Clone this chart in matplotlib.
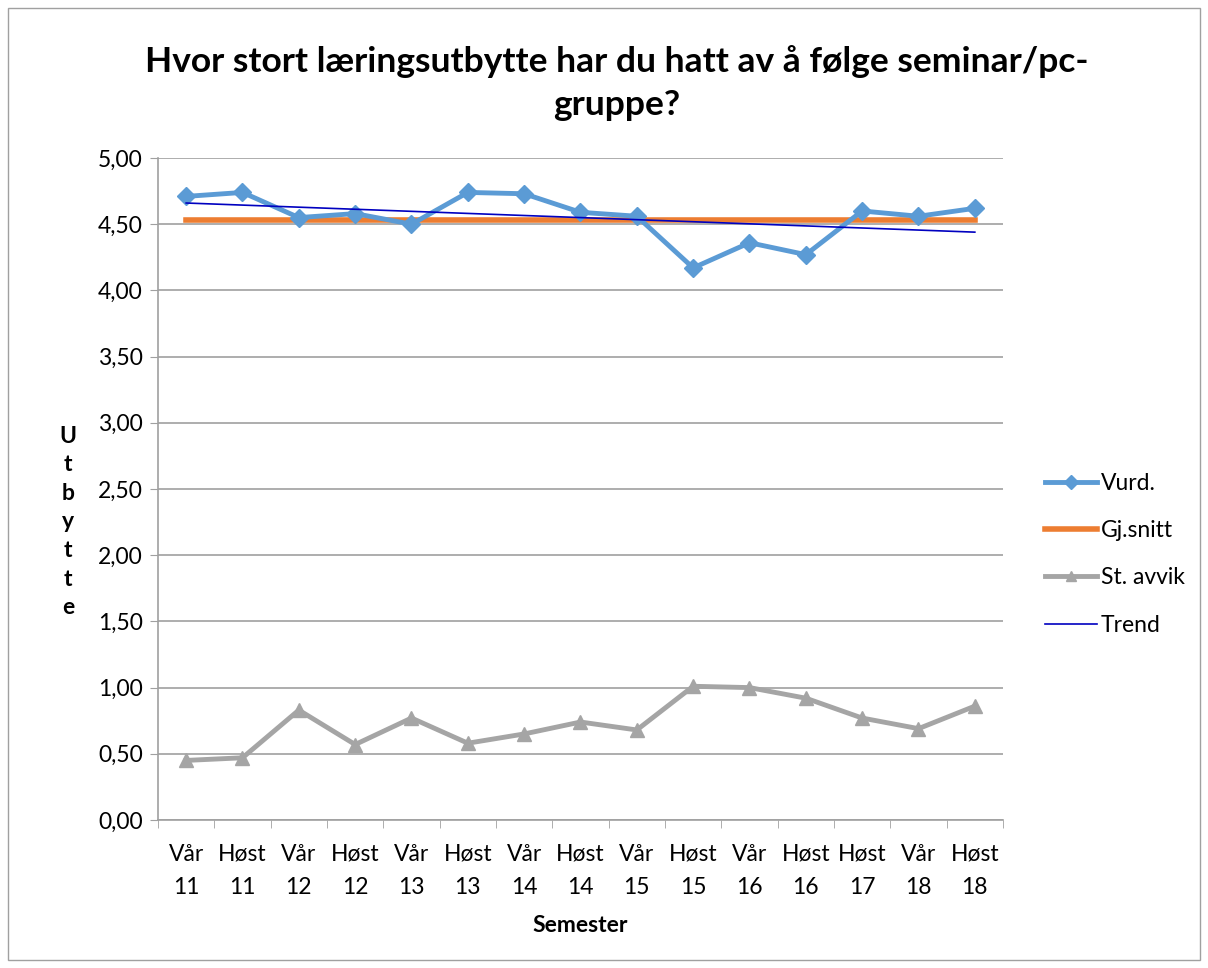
import matplotlib.pyplot as plt
import numpy as np
from matplotlib.ticker import FixedLocator, FuncFormatter
from matplotlib.patches import Rectangle

plt.rcParams['font.family'] = ['Lato', 'DejaVu Sans']

semestre = ["Vår\n11", "Høst\n11", "Vår\n12", "Høst\n12", "Vår\n13", "Høst\n13", "Vår\n14",
            "Høst\n14", "Vår\n15", "Høst\n15", "Vår\n16", "Høst\n16", "Høst\n17", "Vår\n18", "Høst\n18"]
vurd = [4.71, 4.74, 4.55, 4.58, 4.50, 4.74, 4.73, 4.59, 4.56, 4.17, 4.36, 4.27, 4.60, 4.56, 4.62]
gj_snitt = [4.53] * 15
st_avvik = [0.45, 0.47, 0.83, 0.57, 0.77, 0.58, 0.65, 0.74, 0.68, 1.01, 1.00, 0.92, 0.77, 0.69, 0.86]
trend = [4.66, 4.44]  # first and last semester

fs = 16.5

fig = plt.figure(figsize=(12.08, 9.68), dpi=100)
ax = fig.add_axes([158 / 1208, 1 - 820 / 968, (1003 - 158) / 1208, (820 - 158) / 968])

x = np.arange(len(semestre))
ax.plot(x, vurd, color="#5b9bd5", lw=3.5, marker="D", ms=9, label="Vurd.", zorder=3)
ax.plot(x, gj_snitt, color="#ed7d31", lw=4, label="Gj.snitt", zorder=2)
ax.plot(x, st_avvik, color="#a5a5a5", lw=3.5, marker="^", ms=10, label="St. avvik", zorder=3)
ax.plot([x[0], x[-1]], trend, color="#0000c0", lw=1.2, label="Trend", zorder=4)

ax.set_xlim(-0.5, len(semestre) - 0.5)
ax.set_ylim(0, 5)
ax.set_yticks(np.arange(0, 5.01, 0.5))
ax.yaxis.set_major_formatter(FuncFormatter(lambda v, p: f"{v:.2f}".replace(".", ",")))
ax.grid(axis="y", color="#a0a0a0", lw=1.2)
ax.set_axisbelow(True)

ax.set_xticks(x)
ax.set_xticklabels(semestre, fontsize=fs, linespacing=1.75)
ax.xaxis.set_minor_locator(FixedLocator(np.arange(-0.5, len(semestre), 1)))
ax.tick_params(axis="x", which="major", length=0, pad=17)
ax.tick_params(axis="x", which="minor", length=6, color="#a0a0a0")
ax.tick_params(axis="y", length=6, color="#a0a0a0", labelsize=fs, pad=5)

for s in ["top", "right"]:
    ax.spines[s].set_visible(False)
for s in ["left", "bottom"]:
    ax.spines[s].set_color("#a0a0a0")
    ax.spines[s].set_linewidth(1.2)

ax.set_xlabel("Semester", fontsize=fs, fontweight="bold", labelpad=12)
fig.text(68 / 1208, 1 - 522 / 968, "U\nt\nb\ny\nt\nt\ne", fontsize=fs, fontweight="bold",
         ha="center", va="center", linespacing=1.45)

fig.text(617 / 1208, 1 - 83 / 968, "Hvor stort læringsutbytte har du hatt av å følge seminar/pc-\ngruppe?",
         fontsize=25.5, fontweight="bold", ha="center", va="center", linespacing=1.4)

fig.legend(loc="upper left", bbox_to_anchor=(1024 / 1208, 1 - 452 / 968), frameon=False,
           fontsize=fs, labelspacing=1.15, handlelength=2.3, handletextpad=0.15, markerscale=0.75)

fig.patches.append(Rectangle((8 / 1208, 8 / 968), 1192 / 1208, 952 / 968, transform=fig.transFigure,
                             fill=False, edgecolor="#a0a0a0", lw=1))

fig.savefig("out.png", dpi=100)
